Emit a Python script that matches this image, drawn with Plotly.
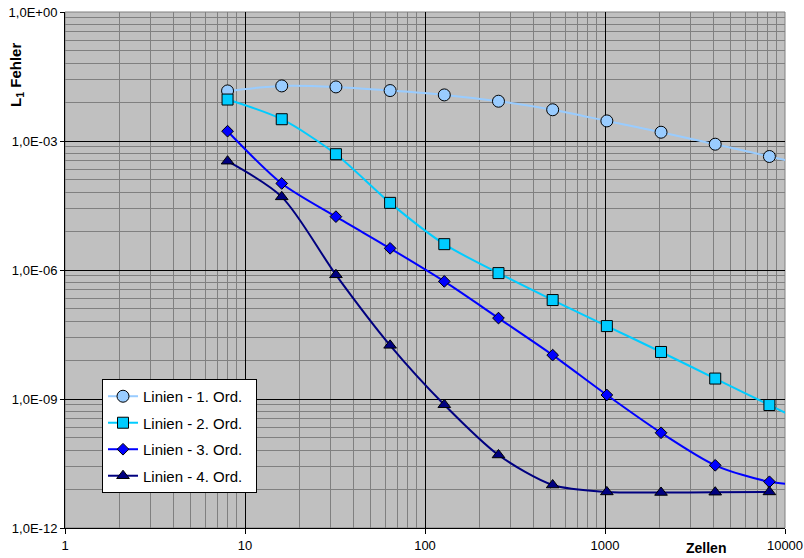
import plotly.graph_objects as go

# Number of cells per run
zellen = [8, 16, 32, 64, 128, 256, 512, 1024, 2048, 4096, 8192, 16384]

# L1 errors for the four reconstruction orders
fehler_ord1 = [1.46e-2, 1.91e-2, 1.81e-2, 1.49e-2, 1.18e-2, 8.41e-3, 5.33e-3,
               2.93e-3, 1.60e-3, 8.42e-4, 4.36e-4, 2.26e-4]
fehler_ord2 = [9.21e-3, 3.21e-3, 4.93e-4, 3.64e-5, 3.99e-6, 8.47e-7, 2.0e-7,
               4.96e-8, 1.24e-8, 2.99e-9, 7.24e-10, 1.78e-10]
fehler_ord3 = [1.69e-3, 1.03e-4, 1.74e-5, 3.19e-6, 5.43e-7, 7.62e-8, 1.05e-8,
               1.24e-9, 1.64e-10, 2.87e-11, 1.19e-11, 9.3e-12]
fehler_ord4 = [3.39e-4, 5.02e-5, 7.73e-7, 1.77e-8, 7.36e-10, 4.99e-11, 1.0e-11,
               6.9e-12, 6.7e-12, 6.8e-12, 6.9e-12]

series_names = ["Linien - 1. Ord.", "Linien - 2. Ord.", "Linien - 3. Ord.", "Linien - 4. Ord."]

x_tickvals = [1, 10, 100, 1000, 10000]
x_ticktext = ["1", "10", "100", "1000", "10000"]
y_tickvals = [1e0, 1e-3, 1e-6, 1e-9, 1e-12]
y_ticktext = ["1,0E+00", "1,0E-03", "1,0E-06", "1,0E-09", "1,0E-12"]

FONT = "Liberation Sans, Arial, sans-serif"

# minor grid: 2..9 per decade on x, cubic steps inside each 3-decade block on y
x_minor = [k * 10 ** n for n in range(0, 4) for k in range(2, 10)]
y_minor = [10.0 ** (-3 * m) * (k / 10) ** 3 for m in range(0, 4) for k in range(2, 10)]

styles = [
    dict(color="#99CCFF", symbol="circle", size=12),
    dict(color="#00CCFF", symbol="square", size=11),
    dict(color="#0000FF", symbol="diamond", size=9),
    dict(color="#000080", symbol="triangle-up", size=11),
]
data = [fehler_ord1, fehler_ord2, fehler_ord3, fehler_ord4]

fig = go.Figure()
for i, (name, vals, st) in enumerate(zip(series_names, data, styles)):
    fig.add_trace(go.Scatter(
        x=zellen[:len(vals)], y=vals, name=name + "\u00a0\u00a0", mode="lines+markers",
        legendgroup=f"g{i}",
        line=dict(color=st["color"], width=2, shape="spline", smoothing=0.8),
        marker=dict(symbol=st["symbol"], size=st["size"], color=st["color"],
                    line=dict(color="#000000", width=1)),
    ))

fig.update_layout(
    width=804, height=558,
    margin=dict(l=65, r=19, t=12, b=30, autoexpand=False),
    paper_bgcolor="#FFFFFF",
    plot_bgcolor="#C0C0C0",
    font=dict(family=FONT, size=13, color="#000000"),
    showlegend=True,
    legend=dict(
        x=0.0514, y=0.2888, xanchor="left", yanchor="top",
        bgcolor="#FFFFFF", bordercolor="#000000", borderwidth=1,
        font=dict(family=FONT, size=15, color="#000000"),
        traceorder="grouped", tracegroupgap=4,
    ),
    xaxis=dict(
        type="log", range=[0, 4], automargin=False,
        tickmode="array", tickvals=x_tickvals, ticktext=x_ticktext,
        ticks="outside", ticklen=5, tickcolor="#000000",
        showline=True, linecolor="#000000", linewidth=1,
        showgrid=True, gridcolor="#000000", gridwidth=1,
        zeroline=False,
        tickfont=dict(size=13),
        minor=dict(tickmode="array", tickvals=x_minor, showgrid=True,
                   gridcolor="#808080", gridwidth=1, ticks=""),
    ),
    yaxis=dict(
        type="log", range=[-12, 0], automargin=False,
        tickmode="array", tickvals=y_tickvals, ticktext=y_ticktext,
        ticks="outside", ticklen=4, tickcolor="#000000",
        showline=True, linecolor="#000000", linewidth=1,
        showgrid=True, gridcolor="#000000", gridwidth=1,
        zeroline=False,
        tickfont=dict(size=13),
        minor=dict(tickmode="array", tickvals=y_minor, showgrid=True,
                   gridcolor="#808080", gridwidth=1, ticks=""),
    ),
    shapes=[dict(type="rect", xref="paper", yref="paper", x0=0, x1=1, y0=0, y1=1,
                 line=dict(color="#808080", width=1), layer="below")],
    annotations=[
        dict(text="<b>Zellen</b>", xref="paper", yref="paper", x=0.89, y=0,
             xanchor="center", yanchor="middle", yshift=-20, showarrow=False,
             font=dict(family=FONT, size=14, color="#000000")),
        dict(text="<b>L<sub>1</sub> Fehler</b>", xref="paper", yref="paper",
             x=0, y=0.878, xanchor="center", yanchor="middle", xshift=-48,
             textangle=-90, showarrow=False,
             font=dict(family=FONT, size=15, color="#000000")),
    ],
)

fig.write_html("out.html")
